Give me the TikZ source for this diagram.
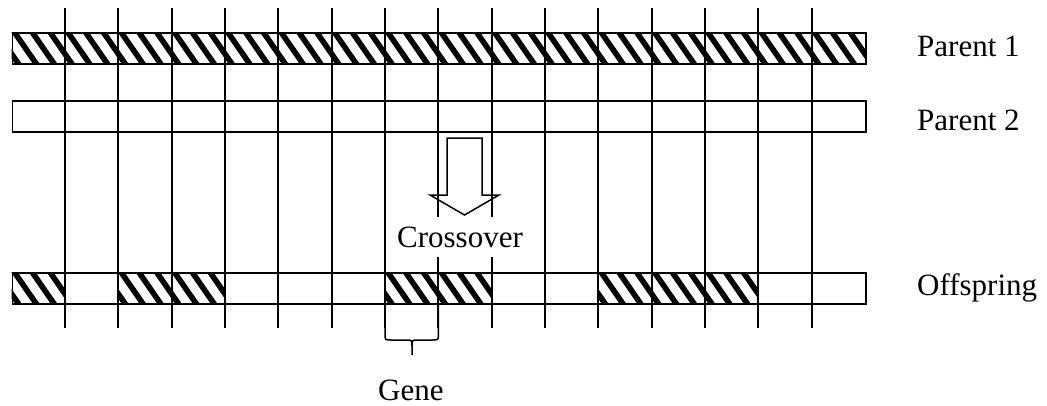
\documentclass[tikz,border=0pt]{standalone}
\usepackage{fontspec}
\setmainfont{Liberation Serif}
\begin{document}
\begin{tikzpicture}[x=1pt,y=-1pt,
  bar/.style={draw, line width=1.5pt, rectangle, minimum width=853.3pt,
    minimum height=31pt, inner sep=0pt, anchor=north west},
  gridline/.style={line width=1.8pt},
  stripe/.style={line width=5.6pt},
  outline/.style={line width=1.5pt},
  lbl/.style={font=\fontsize{31}{36}\selectfont, inner sep=0pt},
]
\useasboundingbox (0,0) rectangle (1047,405);
\def\xo{11.7}
\def\cw{53.333}
% one hatched gene cell: #1 = cell index, #2 = top of the chromosome
\newcommand\hatchcell[2]{%
  \begin{scope}
    \clip (\xo+#1*\cw, #2) rectangle ++(\cw, 31);
    \foreach \k in {-2,-1,0,1,2,3}
      \draw[stripe] (\xo+#1*\cw+0.5+\k*17.78, #2-3) -- ++(25.6, 37);
  \end{scope}}

% hatching of the chromosomes
\foreach \c in {0,...,15} { \hatchcell{\c}{32} }
\foreach \c in {0,2,3,7,8,11,12,13} { \hatchcell{\c}{272} }

% chromosomes
\node[bar] (p1) at (\xo,32) {};
\node[bar] (p2) at (\xo,100) {};
\node[bar] (off) at (\xo,272) {};

% gene boundaries
\foreach \k in {1,...,15}
  \draw[gridline] (\xo+\k*\cw, 8) -- (\xo+\k*\cw, 328);

% crossover arrow
\draw[outline, line join=miter] (447,138) -- (482,138) -- (482,195) -- (499,195)
  -- (464.5,215) -- (430,195) -- (447,195) -- cycle;
\node[lbl, fill=white, text height=30pt, text depth=10pt, anchor=base]
  (cross) at (460,247) {Crossover};

% brace marking one gene
\coordinate (bl) at (\xo+7*\cw, 303);
\coordinate (br) at (\xo+8*\cw, 303);
\coordinate (bt) at (412,355);
\draw[outline] (bl) -- (\xo+7*\cw,334) .. controls (\xo+7*\cw,340) .. (\xo+7*\cw+6,340)
  -- (406,340) .. controls (412,340) .. (412,346) -- (bt);
\draw[outline] (br) -- (\xo+8*\cw,334) .. controls (\xo+8*\cw,340) .. (\xo+8*\cw-6,340)
  -- (418,340) .. controls (412,340) .. (412,346);

% labels
\node[lbl, anchor=base west] (lp1) at (917,56) {Parent 1};
\node[lbl, anchor=base west] (lp2) at (917,130) {Parent 2};
\node[lbl, anchor=base west] (loff) at (917,295) {Offspring};
\node[lbl, anchor=base west] (gene) at (378,400) {Gene};
\end{tikzpicture}
\end{document}
